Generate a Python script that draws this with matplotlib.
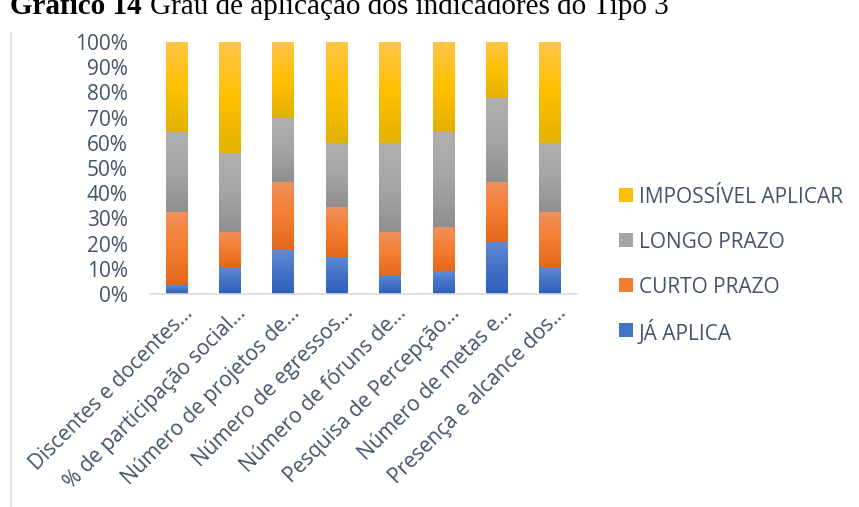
import numpy as np
import matplotlib
matplotlib.use("Agg")
import matplotlib.pyplot as plt
from matplotlib.colors import LinearSegmentedColormap
from matplotlib.lines import Line2D
from matplotlib.patches import Rectangle
from matplotlib.transforms import ScaledTranslation
from matplotlib.ticker import PercentFormatter

# Indicators (labels truncated as they appear on the axis)
categories = [
    "Discentes e docentes…",
    "% de participação social…",
    "Número de projetos de…",
    "Número de egressos…",
    "Número de fóruns de…",
    "Pesquisa de Percepção…",
    "Número de metas e…",
    "Presença e alcance dos…",
]

# Share of answers per level of application (%)
ja_aplica = [3.4, 10.7, 17.3, 14.8, 7.3, 9.1, 20.8, 10.7]
curto_prazo = [29.3, 14.0, 27.3, 19.7, 17.4, 17.6, 23.8, 22.0]
longo_prazo = [31.7, 31.3, 25.4, 25.4, 35.3, 37.7, 33.3, 27.2]
impossivel = [35.6, 44.0, 30.0, 40.1, 40.0, 35.6, 22.1, 40.1]

# (name, values, (dark, base, light) for the vertical gradient)
series = [
    ("JÁ APLICA", ja_aplica, ("#2f5fbf", "#4472c4", "#5f8bd8")),
    ("CURTO PRAZO", curto_prazo, ("#e2691c", "#f47d30", "#f1905e")),
    ("LONGO PRAZO", longo_prazo, ("#8f8f8f", "#a5a5a5", "#b0b0b0")),
    ("IMPOSSÍVEL APLICAR", impossivel, ("#e2b100", "#ffc000", "#ffc548")),
]

text_color = "#44546a"
font = "Open Sans"
fsize = 15
W, H = 859, 507
fig = plt.figure(figsize=(W / 100, H / 100), dpi=100)
ax = fig.add_axes([150 / W, 1 - 294 / H, 427 / W, 252 / H])

x = np.arange(len(categories))
grad = np.linspace(0, 1, 256).reshape(-1, 1)
totals = np.sum([s[1] for s in series], axis=0)
bottom = np.zeros(len(categories))
for name, vals, cols in series:
    frac = np.array(vals) / totals
    bars = ax.bar(x, frac, width=0.41, bottom=bottom, color=cols[1], linewidth=0, label=name)
    cmap = LinearSegmentedColormap.from_list(name, list(cols))
    for rect in bars:
        x0, y0 = rect.get_x(), rect.get_y()
        im = ax.imshow(grad, cmap=cmap, origin="lower", aspect="auto",
                       extent=(x0, x0 + rect.get_width(), y0, y0 + rect.get_height()),
                       interpolation="bilinear", zorder=2)
        im.set_clip_path(rect)
    bottom = bottom + frac

ax.set_xlim(-0.5, len(categories) - 0.5)
ax.set_ylim(0, 1)
ax.set_yticks(np.arange(0, 1.01, 0.1))
ax.yaxis.set_major_formatter(PercentFormatter(1.0, decimals=0))
ax.set_xticks(x)
ax.set_xticklabels(categories, rotation=45, ha="right", va="center", rotation_mode="anchor")
ax.tick_params(length=0, labelsize=fsize, labelcolor=text_color, labelfontfamily=font)
ax.tick_params(axis="y", pad=16)
ax.tick_params(axis="x", pad=0)
offset = ScaledTranslation(0.13, -0.16, fig.dpi_scale_trans)
for lab in ax.get_xticklabels():
    lab.set_transform(lab.get_transform() + offset)

for side in ["top", "right", "left"]:
    ax.spines[side].set_visible(False)
ax.spines["bottom"].set_color("#d9d9d9")
ax.spines["bottom"].set_linewidth(1.2)

# legend, top entry first, fixed row pitch
for i, (name, _, cols) in enumerate(series[::-1]):
    yc = 195 + 45 * i
    fig.add_artist(Rectangle((619 / W, 1 - (yc + 7) / H), 14 / W, 14 / H,
                             transform=fig.transFigure, color=cols[1], lw=0))
    fig.text(639 / W, 1 - yc / H, name, family=font, size=fsize, color=text_color,
             va="center_baseline", ha="left")

# chart frame edge on the left
fig.add_artist(Line2D([11 / W, 11 / W], [0, 1 - 33 / H], color="#dde1e8", lw=1.5))

# caption, partly outside the top edge
t1 = fig.text(10 / W, 1 - 14.5 / H, "Gráfico 14", family="Liberation Serif", weight="bold",
              size=21, va="baseline", ha="left")
fig.canvas.draw()
end = t1.get_window_extent().x1
fig.text((end + 8) / W, 1 - 14.5 / H, "Grau de aplicação dos indicadores do Tipo 3",
         family="Liberation Serif", size=21, va="baseline", ha="left")

fig.savefig("out.png", dpi=100)
